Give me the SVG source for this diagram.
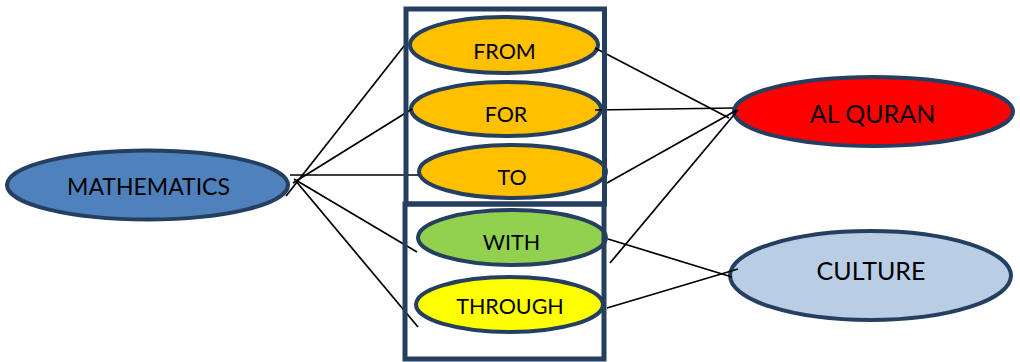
<svg xmlns="http://www.w3.org/2000/svg" width="1020" height="362" viewBox="0 0 1020 362">
  <style>
    .node { stroke: #243F60; stroke-width: 4; }
    .frame { fill: none; stroke: #243F60; stroke-width: 5; }
    .link { stroke: #000; stroke-width: 1.7; fill: none; }
    text { font-family: Lato, "Liberation Sans", sans-serif; fill: #000; text-anchor: middle; }
    .s { font-size: 21.5px; }
    .m { font-size: 23px; }
    .l { font-size: 25px; }
  </style>

  <!-- source node -->
  <g id="mathematics">
    <ellipse class="node" cx="147.5" cy="185" rx="140.5" ry="34.5" fill="#4F81BD"/>
    <text class="m" x="148.5" y="195">MATHEMATICS</text>
  </g>

  <!-- relation nodes -->
  <g id="from">
    <ellipse class="node" cx="504" cy="45" rx="94" ry="28" fill="#FFC000"/>
    <text class="s" x="504.5" y="59">FROM</text>
  </g>
  <g id="for">
    <ellipse class="node" cx="506" cy="109" rx="95" ry="27" fill="#FFC000"/>
    <text class="s" x="506" y="122">FOR</text>
  </g>
  <g id="to">
    <ellipse class="node" cx="512.5" cy="171.5" rx="93.5" ry="26.5" fill="#FFC000"/>
    <text class="s" x="512" y="185">TO</text>
  </g>
  <g id="with">
    <ellipse class="node" cx="512" cy="237.5" rx="94" ry="27.5" fill="#92D050"/>
    <text class="s" x="511.5" y="250">WITH</text>
  </g>
  <g id="through">
    <ellipse class="node" cx="509.5" cy="304.5" rx="93.5" ry="27.5" fill="#FFFF00"/>
    <text class="s" x="510" y="314">THROUGH</text>
  </g>

  <!-- target nodes -->
  <g id="al-quran">
    <ellipse class="node" cx="873.5" cy="111.5" rx="139.5" ry="34.5" fill="#FF0000"/>
    <text class="l" x="872.5" y="123">AL QURAN</text>
  </g>
  <g id="culture">
    <ellipse class="node" cx="870.5" cy="275.5" rx="140.5" ry="44.5" fill="#B9CDE5"/>
    <text class="l" x="871" y="280">CULTURE</text>
  </g>

  <!-- connectors -->
  <g id="connectors">
    <line class="link" x1="286" y1="196" x2="404" y2="46"/>
    <line class="link" x1="293" y1="183" x2="412" y2="109"/>
    <line class="link" x1="290" y1="175" x2="418" y2="175"/>
    <line class="link" x1="294" y1="179" x2="417" y2="252"/>
    <line class="link" x1="295" y1="180" x2="418" y2="327"/>
    <line class="link" x1="595" y1="48" x2="729" y2="118"/>
    <line class="link" x1="595" y1="110" x2="733" y2="108"/>
    <line class="link" x1="607" y1="183" x2="737" y2="110"/>
    <line class="link" x1="610" y1="263" x2="738" y2="110"/>
    <line class="link" x1="608" y1="239" x2="732" y2="277"/>
    <line class="link" x1="607" y1="308" x2="738" y2="269"/>
  </g>

  <!-- grouping frames -->
  <g id="frame-upper">
    <rect class="frame" x="406" y="9" width="198.5" height="195"/>
  </g>
  <g id="frame-lower">
    <rect class="frame" x="405" y="204" width="199" height="155"/>
  </g>
</svg>
